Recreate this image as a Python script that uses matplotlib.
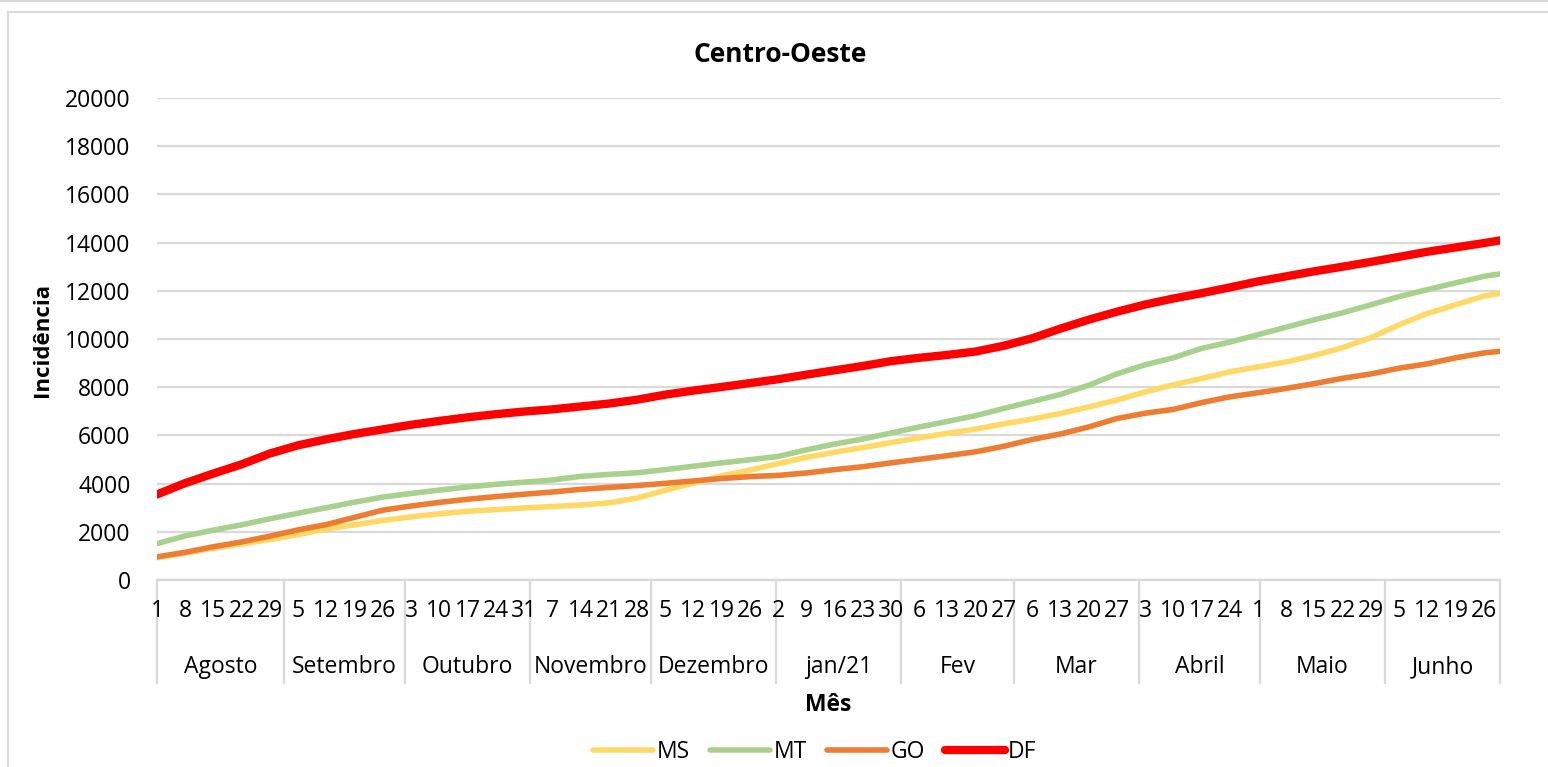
import matplotlib
matplotlib.use("Agg")
import matplotlib.pyplot as plt
from matplotlib.lines import Line2D
import numpy as np

# Months shown on the category axis (Aug/2020 - Jun/2021)
months = ["Agosto", "Setembro", "Outubro", "Novembro", "Dezembro", "jan/21",
          "Fev", "Mar", "Abril", "Maio", "Junho"]
month_days = [31, 30, 31, 30, 31, 31, 28, 31, 30, 31, 30]

# Day-of-month tick labels (weekly)
week_days = [[1, 8, 15, 22, 29], [5, 12, 19, 26], [3, 10, 17, 24, 31],
             [7, 14, 21, 28], [5, 12, 19, 26], [2, 9, 16, 23, 30],
             [6, 13, 20, 27], [6, 13, 20, 27], [3, 10, 17, 24],
             [1, 8, 15, 22, 29], [5, 12, 19, 26]]
last_day = 30  # final sample: 30 de junho

# Cumulative incidence at each weekly tick date plus the final day
MS = [930, 1120, 1320, 1500, 1680, 1880, 2120, 2290, 2470, 2620, 2750, 2850,
      2920, 2990, 3050, 3110, 3200, 3400, 3720, 4020, 4320, 4560, 4830, 5090,
      5300, 5500, 5700, 5900, 6090, 6260, 6480, 6680, 6910, 7180, 7470, 7800,
      8100, 8360, 8640, 8840, 9050, 9320, 9640, 10060, 10590, 11060, 11420,
      11780, 11900]
MT = [1510, 1830, 2070, 2290, 2540, 2770, 3000, 3230, 3440, 3590, 3730, 3860,
      3970, 4060, 4150, 4300, 4380, 4450, 4580, 4720, 4860, 4990, 5130, 5400,
      5640, 5850, 6100, 6350, 6580, 6820, 7120, 7410, 7700, 8080, 8550, 8930,
      9220, 9610, 9870, 10180, 10490, 10800, 11090, 11420, 11760, 12050, 12330,
      12600, 12700]
GO = [960, 1150, 1380, 1580, 1820, 2080, 2300, 2600, 2900, 3070, 3220, 3350,
      3460, 3560, 3650, 3760, 3840, 3920, 4010, 4110, 4210, 4290, 4340, 4440,
      4580, 4700, 4860, 5010, 5160, 5320, 5550, 5830, 6060, 6350, 6700, 6920,
      7080, 7360, 7600, 7770, 7950, 8150, 8370, 8550, 8790, 8970, 9220, 9420,
      9490]
DF = [3550, 4020, 4420, 4800, 5250, 5590, 5840, 6060, 6250, 6440, 6600, 6750,
      6880, 6990, 7080, 7200, 7320, 7480, 7690, 7860, 8010, 8170, 8330, 8520,
      8700, 8880, 9080, 9220, 9340, 9480, 9720, 10030, 10430, 10800, 11130,
      11430, 11680, 11900, 12140, 12390, 12600, 12810, 13000, 13200, 13410,
      13620, 13800, 13980, 14090]

series = [("MS", MS, "#FFD966", 4.0), ("MT", MT, "#A9D18E", 4.0),
          ("GO", GO, "#ED7D31", 4.0), ("DF", DF, "#FF0000", 6.0)]

FONT = "Open Sans"
FS = 16.5
GRID = "#D9D9D9"

# day index of every calendar day along the axis
month_start = np.concatenate([[0], np.cumsum(month_days)[:-1]])
n_days = int(np.sum(month_days))
tick_pos, tick_lab = [], []
for m, days in enumerate(week_days):
    for d in days:
        tick_pos.append(month_start[m] + d - 1)
        tick_lab.append(str(d))
sample_pos = tick_pos + [month_start[-1] + last_day - 1]

fig = plt.figure(figsize=(15.48, 7.67), dpi=100)
W, H = 1548, 767
ax = fig.add_axes([157 / W, 1 - 580 / H, (1500 - 157) / W, (580 - 98) / H])

for name, vals, color, lw in series:
    ax.plot(sample_pos, vals, color=color, lw=lw, label=name,
            solid_capstyle="round", solid_joinstyle="round", zorder=3)

ax.set_xlim(0, n_days - 1)
ax.set_ylim(0, 20000)
ax.set_yticks(np.arange(0, 20001, 2000))
ax.set_yticklabels([str(v) for v in range(0, 20001, 2000)],
                   fontsize=FS, family=FONT)
ax.yaxis.grid(True, color=GRID, lw=1.6)
ax.set_axisbelow(True)
ax.tick_params(axis="y", length=0, pad=19)
for s in ["top", "right", "left"]:
    ax.spines[s].set_visible(False)
ax.spines["bottom"].set_color(GRID)
ax.spines["bottom"].set_linewidth(1.6)

ax.set_xticks(tick_pos)
ax.set_xticklabels(tick_lab, fontsize=FS, family=FONT)
ax.tick_params(axis="x", length=0, pad=14)

# month group labels and separators (kept beneath the day labels)
trans = ax.get_xaxis_transform()
ax_h = 580 - 98
bounds = [0] + [min(s + 0.5, n_days - 1) for s in month_start[1:]] + [n_days - 1]
for b in bounds:
    ax.plot([b, b], [0, -(683 - 580) / ax_h], transform=trans, color=GRID,
            lw=1.6, clip_on=False, zorder=0.2)
for m, name in enumerate(months):
    xc = (bounds[m] + bounds[m + 1]) / 2
    ax.text(xc, -(667 - 580) / ax_h, name, transform=trans, ha="center",
            va="center", fontsize=FS, family=FONT)

fig.text(780 / W, 1 - 55 / H, "Centro-Oeste", ha="center", va="center",
         fontsize=19, fontweight="bold", family=FONT)
fig.text(828 / W, 1 - 705 / H, "Mês", ha="center", va="center",
         fontsize=16.5, fontweight="bold", family=FONT)
fig.text(42 / W, 1 - 340 / H, "Incidência", ha="center", va="center",
         rotation=90, fontsize=16, fontweight="bold", family=FONT)

leg = fig.legend(loc="center", bbox_to_anchor=(815 / W, 1 - 752 / H), ncol=4,
                 frameon=False, prop={"family": FONT, "size": FS},
                 handlelength=2.6, handletextpad=0.15, columnspacing=0.9)

# chart frame
fig.add_artist(Line2D([0, 1], [1 - 0.8 / H, 1 - 0.8 / H], transform=fig.transFigure,
                      color=GRID, lw=1.5))
fig.add_artist(Line2D([8 / W, 1], [1 - 11.5 / H, 1 - 11.5 / H], transform=fig.transFigure,
                      color=GRID, lw=1.5))
fig.add_artist(Line2D([8 / W, 8 / W], [0, 1 - 11.5 / H], transform=fig.transFigure,
                      color=GRID, lw=1.5))

fig.savefig("out.png", dpi=100, facecolor="white")
